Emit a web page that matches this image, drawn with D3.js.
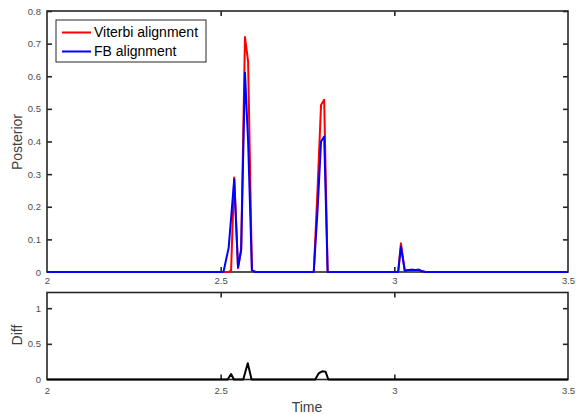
<!DOCTYPE html>
<html>
<head>
<meta charset="utf-8">
<script src="https://cdn.jsdelivr.net/npm/d3@7.9.0/dist/d3.min.js"></script>
<style>
  body { margin: 0; background: #fff; }
  svg { display: block; font-family: "Liberation Sans", Arial, Helvetica, sans-serif; }
  .tick text { fill: #4d4d4d; font-size: 9.5px; }
  .tick line { stroke: #262626; stroke-width: 1.6; }
  .label { fill: #404040; font-size: 14px; }
</style>
</head>
<body>
<svg id="chart" width="576" height="414"></svg>
<script>
// posterior traces (time in seconds)
const time = [2.0, 2.508, 2.523, 2.530, 2.539, 2.550, 2.559, 2.570, 2.579, 2.590, 2.600,
  2.768, 2.779, 2.789, 2.798, 2.808, 2.82,
  3.00, 3.011, 3.019, 3.030, 3.040, 3.050, 3.060, 3.070, 3.080, 3.09, 3.5];
const viterbi = [0, 0, 0, 0.005, 0.29, 0.012, 0.07, 0.72, 0.645, 0.005, 0,
  0, 0.255, 0.512, 0.528, 0, 0,
  0, 0, 0.088, 0.004, 0.005, 0.007, 0.006, 0.007, 0.002, 0, 0];
const fb = [0, 0, 0.074, 0.165, 0.284, 0.014, 0.067, 0.611, 0.40, 0.005, 0,
  0, 0.19, 0.40, 0.415, 0, 0,
  0, 0, 0.078, 0.004, 0.006, 0.007, 0.006, 0.007, 0.002, 0, 0];

// difference trace
const diffTime = [2.0, 2.520, 2.530, 2.538, 2.565, 2.578, 2.589,
  2.772, 2.782, 2.792, 2.802, 2.810, 3.5];
const diffVals = [0, 0, 0.077, 0, 0, 0.227, 0,
  0, 0.085, 0.115, 0.11, 0, 0];

const xTicks = [2, 2.5, 3, 3.5];
const topYTicks = [0, 0.1, 0.2, 0.3, 0.4, 0.5, 0.6, 0.7, 0.8];
const bottomYTicks = [0, 0.5, 1];
const seriesNames = ["Viterbi alignment", "FB alignment"];
const seriesColors = ["#ff0000", "#0000ff"];

const svg = d3.select("#chart");
const left = 47, right = 568;

const x = d3.scaleLinear().domain([2, 3.5]).range([left, right]);
const yTop = d3.scaleLinear().domain([0, 0.8]).range([272, 11]);
const yBot = d3.scaleLinear().domain([0, 1.22]).range([379.5, 292.5]);

const fmt = d => String(d);

function drawAxes(y, yTicks, labelPad) {
  const [y0, y1] = y.range();
  const g = svg.append("g");

  // left, with labels
  g.append("g").attr("transform", `translate(${left},0)`)
    .call(d3.axisLeft(y).tickValues(yTicks).tickFormat(fmt).tickSize(-5).tickPadding(6));
  // right, mirrored ticks
  g.append("g").attr("transform", `translate(${right},0)`)
    .call(d3.axisRight(y).tickValues(yTicks).tickFormat("").tickSize(-5));
  // bottom, with labels
  g.append("g").attr("transform", `translate(0,${y0})`)
    .call(d3.axisBottom(x).tickValues(xTicks).tickFormat(fmt).tickSize(-5).tickPadding(labelPad));
  // top, mirrored ticks
  g.append("g").attr("transform", `translate(0,${y1})`)
    .call(d3.axisTop(x).tickValues(xTicks).tickFormat("").tickSize(-5));

  g.selectAll(".domain").remove();
  // drop end ticks that sit on the box edges
  g.selectAll(".tick line").filter(function () {
    const t = d3.select(this.parentNode).datum();
    return t === xTicks[0] || t === xTicks[xTicks.length - 1] || t === 0;
  }).remove();

  g.append("rect")
    .attr("x", left).attr("y", y1)
    .attr("width", right - left).attr("height", y0 - y1)
    .attr("fill", "none").attr("stroke", "#262626").attr("stroke-width", 1.6);
}

drawAxes(yTop, topYTicks, 5);
drawAxes(yBot, bottomYTicks, 8);

// lines
const lineTop = d3.line().x((d, i) => x(time[i])).y(d => yTop(d));
[viterbi, fb].forEach((s, k) => {
  svg.append("path")
    .attr("d", lineTop(s))
    .attr("fill", "none")
    .attr("stroke", seriesColors[k])
    .attr("stroke-width", 2)
    .attr("stroke-linejoin", "round");
});

const lineBot = d3.line().x((d, i) => x(diffTime[i])).y(d => yBot(d));
svg.append("path")
  .attr("d", lineBot(diffVals))
  .attr("fill", "none")
  .attr("stroke", "#000")
  .attr("stroke-width", 2)
  .attr("stroke-linejoin", "round");

// legend
const lg = svg.append("g");
lg.append("rect")
  .attr("x", 56).attr("y", 20).attr("width", 150).attr("height", 42)
  .attr("fill", "#fff").attr("stroke", "#262626").attr("stroke-width", 1);
seriesNames.forEach((name, i) => {
  const yy = 32.5 + i * 19;
  lg.append("line")
    .attr("x1", 62).attr("x2", 91).attr("y1", yy).attr("y2", yy)
    .attr("stroke", seriesColors[i]).attr("stroke-width", 2);
  lg.append("text")
    .attr("x", 94).attr("y", yy).attr("dy", "0.35em")
    .style("font-size", "14px").attr("fill", "#000")
    .text(name);
});

// axis labels
svg.append("text").attr("class", "label")
  .attr("transform", "translate(22,142) rotate(-90)")
  .attr("text-anchor", "middle").text("Posterior");
svg.append("text").attr("class", "label")
  .attr("transform", "translate(22,335) rotate(-90)")
  .attr("text-anchor", "middle").text("Diff");
svg.append("text").attr("class", "label")
  .attr("x", 307).attr("y", 412)
  .attr("text-anchor", "middle").text("Time");
</script>
</body>
</html>
